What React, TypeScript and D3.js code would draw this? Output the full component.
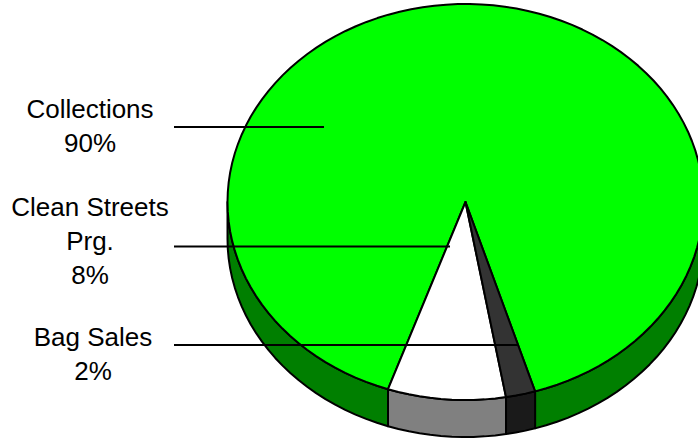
import React from "react";
import * as d3 from "d3";

// Revenue sources and their percentage shares
const categories = ["Collections", "Clean Streets Prg.", "Bag Sales"];
const shares = [90, 8, 2];
const topColors = ["#00ff00", "#ffffff", "#333333"];
const wallColors = ["#007f00", "#808080", "#1a1a1a"];
const labelLines = [["Collections", "90%"], ["Clean Streets", "Prg.", "8%"], ["Bag Sales", "2%"]];

const W = 698, H = 440;
const cx = 465.5, cy = 202, rx = 238, ry = 198, depth = 37;
const START = (163 * Math.PI) / 180;
const FONT = "'Liberation Sans', Arial, sans-serif";

// Leader and text placement for each label
const labelX = [90, 90, 93];
const labelY = [118, 216, 346];
const lineH = 34;
const leaderX0 = 174;
const leaderX1 = [324, 450, 518];
const leaderY = [127, 246.5, 345];

const pt = (a: number, dy = 0): [number, number] => [cx + rx * Math.sin(a), cy + dy - ry * Math.cos(a)];

// Rim outline as short chords
const sample = (a0: number, a1: number, dy = 0) => {
  const n = Math.max(2, Math.ceil(Math.abs(a1 - a0) / 0.05));
  return d3.range(n + 1).map((i) => pt(a0 + ((a1 - a0) * i) / n, dy));
};

const line = d3.line<[number, number]>();

// Part of an angular span that faces the viewer (lower half of the ellipse)
function frontSpans(a0: number, a1: number): [number, number][] {
  const lo = Math.min(a0, a1), hi = Math.max(a0, a1);
  const out: [number, number][] = [];
  for (let k = -2; k <= 2; k++) {
    const s = Math.max(lo, Math.PI / 2 + k * 2 * Math.PI);
    const e = Math.min(hi, (3 * Math.PI) / 2 + k * 2 * Math.PI);
    if (e > s) out.push([s, e]);
  }
  return out;
}

export default function App() {
  const arcs = d3.pie<number>().sort(null).startAngle(START).endAngle(START - 2 * Math.PI)(shares);
  return (
    <svg width={W} height={H} viewBox={`0 0 ${W} ${H}`} style={{ position: "fixed", left: 0, top: 0, background: "#fff" }}>
      {arcs.map((d, i) =>
        frontSpans(d.startAngle, d.endAngle).map(([s, e], j) => (
          <path
            key={`${i}-${j}`}
            d={line([...sample(s, e), ...sample(e, s, depth)])! + "Z"}
            fill={wallColors[i]}
            stroke="#000"
            strokeWidth={2}
            strokeLinejoin="round"
          />
        ))
      )}
      {arcs.map((d, i) => (
        <path
          key={categories[i]}
          d={line([[cx, cy], ...sample(d.startAngle, d.endAngle)])! + "Z"}
          fill={topColors[i]}
          stroke="#000"
          strokeWidth={2}
          strokeLinejoin="round"
        />
      ))}
      {labelLines.map((ls, i) => (
        <g key={i}>
          <line x1={leaderX0} x2={leaderX1[i]} y1={leaderY[i]} y2={leaderY[i]} stroke="#000" strokeWidth={2} />
          {ls.map((t, j) => (
            <text key={t} x={labelX[i]} y={labelY[i] + j * lineH} textAnchor="middle" fontFamily={FONT} fontSize={26} fill="#000">
              {t}
            </text>
          ))}
        </g>
      ))}
    </svg>
  );
}
